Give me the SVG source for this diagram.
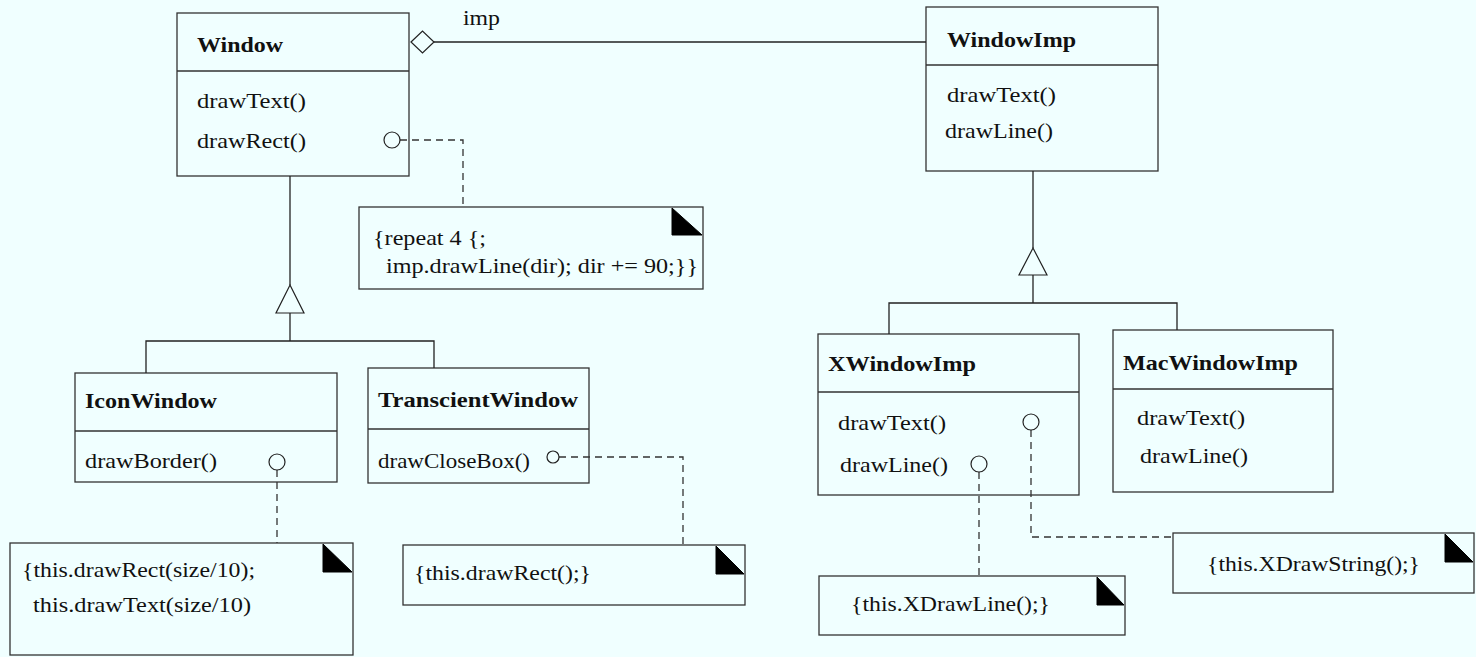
<svg xmlns="http://www.w3.org/2000/svg" width="1476" height="657" viewBox="0 0 1476 657" font-family="'Liberation Serif', 'Times New Roman', Times, serif">
  <style>
    .box { fill: #F0FFFF; stroke: #333; stroke-width: 1.3; }
    .sep { stroke: #333; stroke-width: 1.3; }
    .line { fill: none; stroke: #222; stroke-width: 1.3; }
    .dash { fill: none; stroke: #333; stroke-width: 1.3; stroke-dasharray: 7 5; }
    .pin { fill: #F0FFFF; stroke: #222; stroke-width: 1.2; }
    .ear { fill: #000; stroke: #000; stroke-width: 1; }
    text { font-family: 'Liberation Serif', 'Times New Roman', Times, serif; font-size: 21px; fill: #111; }
    .title { font-weight: bold; }
  </style>
  <rect width="1476" height="657" fill="#F0FFFF"/>

  <g id="Window">
    <rect class="box" x="177" y="13" width="232" height="163"/>
    <line class="sep" x1="177" y1="71" x2="409" y2="71"/>
    <text class="title" x="197" y="52" textLength="86" lengthAdjust="spacingAndGlyphs">Window</text>
    <text x="197" y="108" textLength="109" lengthAdjust="spacingAndGlyphs">drawText()</text>
    <text x="197" y="148" textLength="109" lengthAdjust="spacingAndGlyphs">drawRect()</text>
  </g>

  <g id="WindowImp">
    <rect class="box" x="926" y="7" width="232" height="164"/>
    <line class="sep" x1="926" y1="65" x2="1158" y2="65"/>
    <text class="title" x="947" y="47" textLength="129" lengthAdjust="spacingAndGlyphs">WindowImp</text>
    <text x="947" y="102" textLength="109" lengthAdjust="spacingAndGlyphs">drawText()</text>
    <text x="945" y="138" textLength="108" lengthAdjust="spacingAndGlyphs">drawLine()</text>
  </g>

  <g id="IconWindow">
    <rect class="box" x="75" y="373" width="262" height="109"/>
    <line class="sep" x1="75" y1="431" x2="337" y2="431"/>
    <text class="title" x="85" y="408" textLength="132" lengthAdjust="spacingAndGlyphs">IconWindow</text>
    <text x="85" y="468" textLength="132" lengthAdjust="spacingAndGlyphs">drawBorder()</text>
  </g>

  <g id="TranscientWindow">
    <rect class="box" x="368" y="368" width="221" height="115"/>
    <line class="sep" x1="368" y1="429" x2="589" y2="429"/>
    <text class="title" x="378" y="407" textLength="200" lengthAdjust="spacingAndGlyphs">TranscientWindow</text>
    <text x="378" y="468" textLength="152" lengthAdjust="spacingAndGlyphs">drawCloseBox()</text>
  </g>

  <g id="XWindowImp">
    <rect class="box" x="818" y="334" width="261" height="161"/>
    <line class="sep" x1="818" y1="392" x2="1079" y2="392"/>
    <text class="title" x="828" y="371" textLength="148" lengthAdjust="spacingAndGlyphs">XWindowImp</text>
    <text x="838" y="430" textLength="108" lengthAdjust="spacingAndGlyphs">drawText()</text>
    <text x="840" y="472" textLength="108" lengthAdjust="spacingAndGlyphs">drawLine()</text>
  </g>

  <g id="MacWindowImp">
    <rect class="box" x="1113" y="330" width="220" height="162"/>
    <line class="sep" x1="1113" y1="389" x2="1333" y2="389"/>
    <text class="title" x="1123" y="370" textLength="175" lengthAdjust="spacingAndGlyphs">MacWindowImp</text>
    <text x="1137" y="425" textLength="108" lengthAdjust="spacingAndGlyphs">drawText()</text>
    <text x="1140" y="463" textLength="108" lengthAdjust="spacingAndGlyphs">drawLine()</text>
  </g>

  <!-- notes -->
  <g id="noteWindow">
    <rect class="box" x="359" y="207" width="344" height="82"/>
    <polygon class="ear" points="672,208 672,235 702,235"/>
    <text x="373" y="245" textLength="113" lengthAdjust="spacingAndGlyphs">{repeat 4 {;</text>
    <text x="386" y="273" textLength="312" lengthAdjust="spacingAndGlyphs">imp.drawLine(dir); dir += 90;}}</text>
  </g>

  <g id="noteIconWindow">
    <rect class="box" x="10" y="543" width="343" height="112"/>
    <polygon class="ear" points="323,544 323,572 352,572"/>
    <text x="22" y="577" textLength="233" lengthAdjust="spacingAndGlyphs">{this.drawRect(size/10);</text>
    <text x="33" y="612" textLength="218" lengthAdjust="spacingAndGlyphs">this.drawText(size/10)</text>
  </g>

  <g id="noteTranscientWindow">
    <rect class="box" x="403" y="545" width="342" height="60"/>
    <polygon class="ear" points="716,546 716,574 744,574"/>
    <text x="414" y="580" textLength="177" lengthAdjust="spacingAndGlyphs">{this.drawRect();}</text>
  </g>

  <g id="noteXDrawLine">
    <rect class="box" x="819" y="576" width="306" height="59"/>
    <polygon class="ear" points="1097,577 1097,605 1124,605"/>
    <text x="851" y="611" textLength="199" lengthAdjust="spacingAndGlyphs">{this.XDrawLine();}</text>
  </g>

  <g id="noteXDrawString">
    <rect class="box" x="1173" y="533" width="301" height="60"/>
    <polygon class="ear" points="1445,534 1445,562 1473,562"/>
    <text x="1207" y="571" textLength="213" lengthAdjust="spacingAndGlyphs">{this.XDrawString();}</text>
  </g>

  <!-- connectors, drawn over the boxes so the pins stay visible -->
  <g id="connectors">
    <!-- aggregation Window -> WindowImp -->
    <polygon class="pin" points="411,42 422.5,31 434,42 422.5,53"/>
    <line class="line" x1="434" y1="42" x2="926" y2="42"/>
    <text x="463" y="25" textLength="37" lengthAdjust="spacingAndGlyphs">imp</text>

    <!-- generalization: Window subclasses -->
    <line class="line" x1="290" y1="176" x2="290" y2="285"/>
    <polygon class="pin" points="290,285 304,313 276,313"/>
    <polyline class="line" points="290,313 290,341"/>
    <polyline class="line" points="146,373 146,341 434,341 434,368"/>

    <!-- generalization: WindowImp subclasses -->
    <line class="line" x1="1033" y1="171" x2="1033" y2="248"/>
    <polygon class="pin" points="1033,248 1047,275 1019,275"/>
    <polyline class="line" points="1033,275 1033,303"/>
    <polyline class="line" points="889,334 889,303 1177,303 1177,330"/>

    <!-- note links -->
    <polyline class="dash" points="400,140 463,140 463,207"/>
    <circle class="pin" cx="392" cy="140" r="8"/>

    <polyline class="dash" points="277,470 277,543"/>
    <circle class="pin" cx="277" cy="462" r="8"/>

    <polyline class="dash" points="559,457 683,457 683,545"/>
    <circle class="pin" cx="553" cy="457" r="6"/>

    <polyline class="dash" points="1031,430 1031,537 1173,537"/>
    <circle class="pin" cx="1031" cy="422" r="8"/>

    <polyline class="dash" points="979,472 979,576"/>
    <circle class="pin" cx="979" cy="464" r="8"/>
  </g>
</svg>
